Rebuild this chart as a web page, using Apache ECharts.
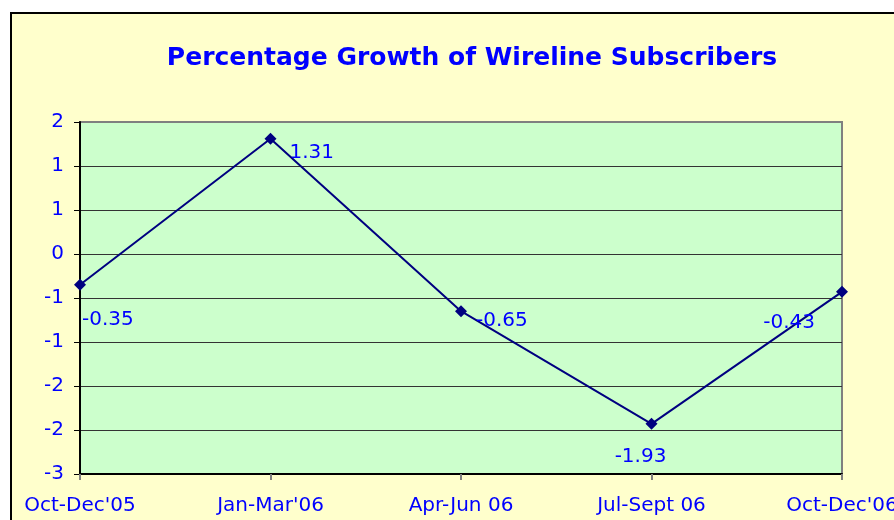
<!DOCTYPE html>
<html>
<head>
<meta charset="utf-8">
<script src="https://cdn.jsdelivr.net/npm/echarts@6/dist/echarts.min.js"></script>
<style>
  html, body { margin: 0; padding: 0; background: #fff; }
  #chart { width: 894px; height: 520px; }
</style>
</head>
<body>
<div id="chart"></div>
<script>
var quarters = ["Oct-Dec'05", "Jan-Mar'06", "Apr-Jun 06", "Jul-Sept 06", "Oct-Dec'06"];
var growth = [-0.35, 1.31, -0.65, -1.93, -0.43];
// label placement per point, as adjusted by hand in the original sheet
var labelAligns = ['left', 'left', 'left', 'center', 'right'];
var labelOffsets = [[2, 35], [19, 14], [15, 10], [-11, 33], [-27, 31]];

var chart = echarts.init(document.getElementById('chart'));

var points = [];
for (var i = 0; i < growth.length; i++) {
	points.push({
		value: growth[i],
		label: { align: labelAligns[i], offset: labelOffsets[i] }
	});
}

// excel "0" number format, rounds half away from zero
function roundLabel(v) {
	var r = Math.round(Math.abs(v) + 1e-9);
	return (v < 0 && r !== 0 ? '-' : '') + r;
}

var gridColors = [];
for (var k = 0; k < 8; k++) gridColors.push('#333333');
gridColors.push('#808080');

var font = 'DejaVu Sans, Verdana, sans-serif';

var option = {
	backgroundColor: '#ffffff',
	textStyle: { fontFamily: font },
	graphic: [{
		type: 'rect',
		left: 10, top: 12, z: -10,
		shape: { width: 900, height: 520 },
		style: { fill: '#FFFFCC', stroke: '#000000', lineWidth: 2 }
	}],
	title: {
		text: 'Percentage Growth of Wireline Subscribers',
		left: 467, top: 41, textAlign: 'center',
		textStyle: { color: '#0000FF', fontSize: 25, fontWeight: 'bold', fontFamily: font }
	},
	grid: {
		left: 80, top: 122, right: 52, bottom: 46,
		outerBoundsMode: 'none',
		containLabel: false,
		show: true, backgroundColor: '#CCFFCC', borderColor: '#808080', borderWidth: 2
	},
	xAxis: {
		type: 'category',
		data: quarters,
		boundaryGap: false,
		axisLine: { onZero: false, lineStyle: { color: '#000000', width: 2 } },
		axisTick: { show: true, length: 6, lineStyle: { color: '#808080', width: 2 } },
		axisLabel: { color: '#0000FF', fontSize: 20, margin: 22, interval: 0, hideOverlap: false },
		splitLine: { show: false }
	},
	yAxis: {
		type: 'value',
		min: -2.5, max: 1.5, interval: 0.5,
		axisLine: { show: true, onZero: false, lineStyle: { color: '#000000', width: 2 } },
		axisTick: { show: true, length: 6, lineStyle: { color: '#000000' } },
		axisLabel: { color: '#0000FF', fontSize: 20, margin: 16, formatter: roundLabel },
		splitLine: { show: true, lineStyle: { color: gridColors, width: 1 } }
	},
	series: [{
		type: 'line',
		data: points,
		symbol: 'diamond',
		symbolSize: 12,
		lineStyle: { color: '#000080', width: 2 },
		itemStyle: { color: '#000080' },
		label: {
			show: true,
			position: 'inside',
			verticalAlign: 'middle',
			color: '#0000FF',
			fontSize: 20,
			formatter: function(p) { return p.value.toFixed(2); }
		},
		animation: false
	}]
};
chart.setOption(option);
</script>
</body>
</html>
